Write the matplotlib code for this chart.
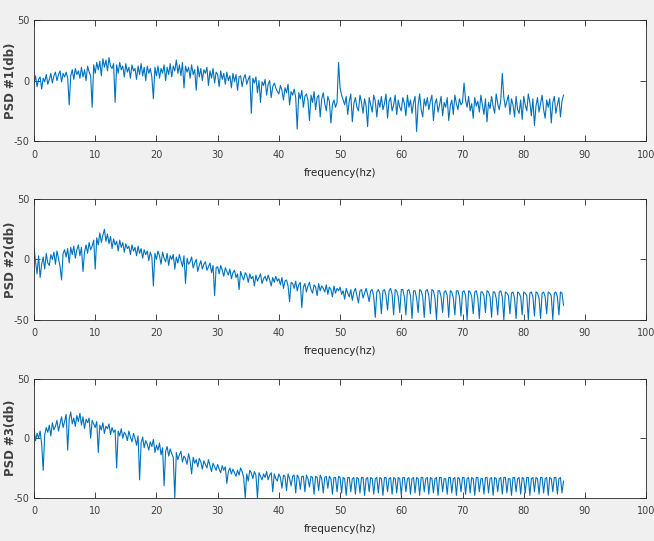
import numpy as np
import matplotlib
matplotlib.use("Agg")
import matplotlib.pyplot as plt

# PSD estimates in dB, read off every 0.25 Hz from 0 to 86.5 Hz (one row = 10 Hz)
FREQ_STEP = 0.25

psd1 = [
    -2, 4, -5, 1, 3, -7, 2, -1, 5, -3, 1, 6, -2, 4, 7, 0, 5, 8, -1, 6,
    3, 7, 2, -20, 4, 9, 1, 10, 5, 8, 2, 11, 3, 9, 0, 12, 7, 4, -22, 13,
    6, 15, 9, 16, 4, 18, 11, 17, 8, 19, 12, 10, 14, -18, 13, 6, 15, 9, 12, 3,
    14, 7, 11, 2, 13, 8, 10, 1, 12, 5, 14, 4, 11, 0, 12, 6, 10, 3, -15, 11,
    4, 12, 2, 10, 6, 13, 0, 11, 5, 14, 3, 12, 8, 17, 6, 13, 4, 15, -6, 12,
    7, 11, 2, 13, 5, 9, -8, 12, 3, 10, 0, 9, 6, 11, -4, 8, 2, 10, -2, 7,
    5, -5, 8, 1, 6, -3, 7, 0, 4, -6, 6, -1, 5, -8, 3, 4, -5, 2, 5, -3,
    1, 4, -27, 2, -2, 3, -10, 0, -18, -1, -4, 1, -12, -3, 0, -14, -5, -2, -6, -9,
    -11, -4, -8, -16, -6, -10, -3, -20, -9, -12, -7, -14, -40, -10, -15, -8, -22, -13, -11, -16,
    -33, -12, -18, -9, -24, -14, -12, -30, -15, -10, -19, -25, -13, -17, -35, -20, -16, -22, -18, 15,
    -6, -12, -16, -20, -13, -28, -17, -11, -34, -19, -14, -22, -25, -12, -18, -27, -15, -21, -38, -14,
    -20, -26, -12, -17, -30, -16, -22, -13, -24, -19, -11, -31, -17, -14, -25, -20, -12, -28, -16, -22,
    -25, -14, -19, -29, -12, -22, -16, -27, -18, -13, -42, -20, -11, -24, -30, -15, -21, -14, -24, -17,
    -12, -33, -19, -15, -26, -20, -13, -29, -18, -22, -14, -33, -21, -16, -28, -12, -19, -24, -15, -20,
    -18, -2, -16, -22, -13, -25, -19, -31, -14, -21, -17, -26, -12, -20, -28, -15, -34, -18, -23, -13,
    -21, -27, -11, -19, -24, -16, 6, -14, -22, -17, -12, -28, -15, -20, -30, -13, -24, -27, -16, -32,
    -13, -20, -25, -11, -18, -29, -15, -37, -21, -14, -26, -19, -12, -24, -31, -16, -22, -15, -35, -18,
    -13, -27, -20, -14, -30, -17, -12,
]

psd2 = [
    10, -2, -12, 3, -15, -4, 2, -8, 5, -3, -5, 4, 0, 6, -4, 7, 1, -6, -17, 5,
    8, 2, 9, -3, 10, 4, 11, 1, 8, 12, 3, 10, -10, 6, 12, 5, 14, 8, 11, 16,
    -8, 18, 12, 22, 14, 20, 25, 15, 21, 13, 19, 9, 17, 12, 15, 7, 16, 10, 14, 6,
    13, 9, 11, 4, 12, 7, 10, 3, 11, 5, 9, 1, 8, 4, 7, -1, 6, 2, -22, 5,
    0, 7, 3, -4, 6, 1, -2, 5, -5, 3, 0, 4, -8, 2, -3, 4, -1, -6, 3, -20,
    1, -4, -2, 2, -7, -3, 0, -10, -5, -1, -8, -4, -2, -9, -6, -3, -11, -5, -30, -7,
    -6, -12, -5, -9, -14, -7, -10, -13, -8, -16, -11, -9, -15, -12, -25, -10, -14, -17, -11, -13,
    -19, -12, -16, -14, -22, -13, -18, -15, -12, -20, -16, -14, -18, -13, -17, -22, -15, -19, -14, -18,
    -16, -21, -15, -24, -18, -17, -22, -35, -19, -20, -24, -18, -26, -21, -19, -40, -23, -20, -27, -22,
    -19, -25, -28, -21, -23, -30, -20, -26, -22, -24, -27, -21, -29, -23, -25, -31, -22, -28, -24, -26,
    -23, -29, -26, -33, -24, -28, -31, -25, -34, -27, -24, -30, -36, -26, -25, -32, -28, -24, -29, -35,
    -26, -25, -31, -48, -27, -25, -28, -45, -26, -25, -30, -42, -26, -24, -29, -46, -25, -26, -31, -44,
    -25, -25, -31, -46, -26, -25, -30, -49, -26, -26, -32, -44, -25, -26, -31, -48, -26, -25, -30, -45,
    -25, -26, -32, -50, -26, -26, -31, -44, -27, -26, -30, -48, -26, -27, -32, -46, -26, -26, -31, -47,
    -27, -26, -30, -50, -26, -27, -31, -45, -27, -26, -32, -49, -27, -27, -30, -44, -26, -27, -31, -48,
    -27, -27, -32, -46, -27, -26, -31, -50, -27, -28, -30, -45, -28, -27, -32, -49, -27, -28, -31, -46,
    -27, -28, -30, -50, -28, -27, -31, -47, -27, -28, -32, -49, -28, -27, -31, -45, -27, -28, -30, -50,
    -28, -27, -31, -46, -27, -28, -38,
]

psd3 = [
    8, -2, 4, 0, 6, -5, -27, 3, 9, 5, 11, 2, 13, 7, 10, 15, 6, 12, 18, 9,
    14, 20, -10, 16, 22, 12, 17, 10, 19, 14, 21, 11, 18, 8, 16, 13, 17, 0, 15, 12,
    9, 14, -12, 11, 7, 13, 4, 10, 8, 12, 3, 9, 5, 7, -25, 6, 2, 8, 0, 5,
    3, -2, 6, 1, -3, 4, 0, -6, 2, -35, -4, 1, -8, -2, -5, -10, -3, -7, -1, -12,
    -6, -10, -4, -14, -8, -40, -11, -7, -15, -9, -13, -16, -50, -12, -18, -14, -11, -20, -15, -17,
    -22, -13, -19, -30, -16, -21, -18, -24, -17, -20, -26, -19, -22, -25, -18, -23, -28, -21, -24, -27,
    -22, -26, -29, -23, -27, -24, -38, -28, -25, -30, -26, -29, -32, -27, -31, -25, -28, -33, -50, -30,
    -36, -27, -29, -34, -28, -31, -50, -29, -32, -35, -30, -33, -28, -35, -31, -29, -45, -30, -34, -36,
    -30, -33, -42, -31, -32, -44, -30, -34, -40, -32, -31, -46, -31, -33, -43, -32, -32, -45, -31, -34,
    -41, -32, -33, -47, -32, -33, -44, -31, -34, -46, -33, -32, -42, -32, -34, -47, -33, -33, -45, -32,
    -33, -46, -33, -34, -48, -33, -33, -45, -34, -33, -47, -33, -34, -46, -33, -33, -48, -34, -33, -45,
    -33, -34, -47, -34, -33, -46, -33, -34, -48, -33, -33, -45, -34, -33, -47, -33, -34, -46, -33, -34,
    -48, -33, -33, -45, -34, -33, -47, -34, -33, -46, -33, -34, -48, -33, -33, -45, -34, -33, -47, -33,
    -34, -46, -34, -33, -48, -33, -33, -45, -34, -34, -47, -33, -33, -46, -34, -33, -48, -33, -34, -45,
    -33, -33, -47, -34, -33, -46, -33, -34, -48, -33, -33, -45, -34, -34, -47, -33, -33, -46, -34, -33,
    -48, -33, -34, -45, -34, -33, -47, -33, -33, -46, -34, -34, -48, -33, -33, -45, -34, -33, -47, -33,
    -34, -46, -33, -33, -48, -34, -33, -45, -33, -34, -47, -33, -33, -46, -34, -33, -48, -33, -34, -45,
    -33, -33, -47, -34, -33, -46, -36,
]

ylabels = ["PSD #1(db)", "PSD #2(db)", "PSD #3(db)"]
xticks = list(range(0, 101, 10))
yticks = [-50, 0, 50]

boxes = [
    (0.052, 0.739, 0.936, 0.224),
    (0.052, 0.409, 0.936, 0.223),
    (0.052, 0.080, 0.936, 0.220),
]

plt.rcParams["axes.unicode_minus"] = False
fig = plt.figure(figsize=(6.54, 5.41), dpi=100, facecolor="#f0f0f0")
narrow = ["Liberation Sans Narrow", "DejaVu Sans"]

for data, label, box in zip([psd1, psd2, psd3], ylabels, boxes):
    ax = fig.add_axes(box)
    freq = np.arange(len(data)) * FREQ_STEP
    ax.plot(freq, data, color="#0072BD", linewidth=0.8)
    ax.set_xlim(0, 100)
    ax.set_ylim(-50, 50)
    ax.set_xticks(xticks)
    ax.set_yticks(yticks)
    ax.tick_params(direction="in", top=True, right=True, length=4, width=0.6,
                   colors="#262626", labelsize=7, labelcolor="#404040")
    ax.tick_params(axis="x", pad=6)
    for t in ax.get_xticklabels() + ax.get_yticklabels():
        t.set_family(narrow)
    for s in ax.spines.values():
        s.set_color("#262626")
        s.set_linewidth(0.6)
    ax.set_xlabel("frequency(hz)", fontsize=7.5, color="#262626", family=narrow, labelpad=6)
    ax.set_ylabel(label, fontsize=8.5, color="#404040", fontweight="bold")
    ax.yaxis.set_label_coords(-0.027, 0.5)

fig.savefig("out.png", dpi=100, facecolor=fig.get_facecolor())
